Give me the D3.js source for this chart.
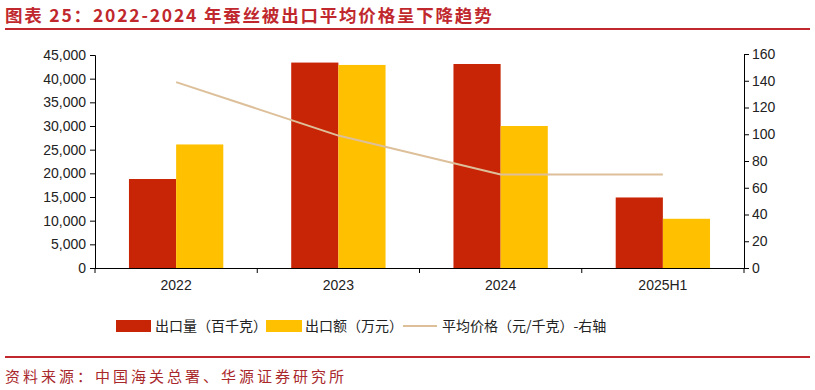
<!DOCTYPE html>
<html><head><meta charset="utf-8">
<script src="https://cdn.jsdelivr.net/npm/d3@7"></script>
<style>body{margin:0;background:#fff;}svg{display:block;}</style>
</head><body>
<svg id="c" width="815" height="390"></svg>
<script>
const categories = ["2022","2023","2024","2025H1"];
const volume = [18800, 43400, 43100, 14900];   // 出口量（百千克）
const amount = [26100, 42900, 30000, 10400];   // 出口额（万元）
const price = [139, 99, 70, 70];               // 平均价格（元/千克）
const leftTicks = [0,5000,10000,15000,20000,25000,30000,35000,40000,45000];
const rightTicks = [0,20,40,60,80,100,120,140,160];

(function(){
const svg = d3.select("#c");
const mL = 95, mR = 744, mT = 55, mB = 268;
const red = "#C82506", yellow = "#FFC000", tan = "#DDC09A", dark = "#C0282D";

// title
svg.append("text").attr("x",5).attr("y",22)
  .attr("font-family","'Noto Sans CJK SC', sans-serif").attr("font-weight","bold")
  .attr("font-size",17.5).attr("letter-spacing",1.8).attr("fill",dark)
  .text("图表 25：2022-2024 年蚕丝被出口平均价格呈下降趋势");
svg.append("line").attr("x1",5).attr("x2",810).attr("y1",29).attr("y2",29)
  .attr("stroke",dark).attr("stroke-width",2);
svg.append("line").attr("x1",5).attr("x2",810).attr("y1",357).attr("y2",357)
  .attr("stroke",dark).attr("stroke-width",2);
svg.append("text").attr("x",5).attr("y",382)
  .attr("font-family","'Noto Sans CJK SC', sans-serif")
  .attr("font-size",15).attr("letter-spacing",3).attr("fill","#A8282B")
  .text("资料来源：中国海关总署、华源证券研究所");

const x = d3.scaleBand().domain(categories).range([mL,mR]).paddingInner(0).paddingOuter(0);
const sub = d3.scaleBand().domain(["v","a"]).range([0,x.bandwidth()]).paddingInner(0).paddingOuter(0.72);
const yL = d3.scaleLinear().domain([0,45000]).range([mB,mT]);
const yR = d3.scaleLinear().domain([0,160]).range([mB,mT-1]);

const fmt = d3.format(",");
const font = "'Liberation Sans', Arial, sans-serif";

// bars
const g = svg.append("g");
categories.forEach((c,i)=>{
  g.append("rect").attr("x",x(c)+sub("v")).attr("width",sub.bandwidth())
    .attr("y",yL(volume[i])).attr("height",yL(0)-yL(volume[i])).attr("fill",red);
  g.append("rect").attr("x",x(c)+sub("a")).attr("width",sub.bandwidth())
    .attr("y",yL(amount[i])).attr("height",yL(0)-yL(amount[i])).attr("fill",yellow);
});

// line
const line = d3.line().x((d,i)=>x(categories[i])+x.bandwidth()/2).y(d=>yR(d));
svg.append("path").datum(price).attr("d",line).attr("fill","none")
  .attr("stroke",tan).attr("stroke-width",2);

// axes
const axL = d3.axisLeft(yL).tickValues(leftTicks).tickFormat(fmt).tickSize(5).tickPadding(4);
const gL = svg.append("g").attr("transform",`translate(${mL},0)`).call(axL);
const axR = d3.axisRight(yR).tickValues(rightTicks).tickSize(5).tickPadding(3);
const gR = svg.append("g").attr("transform",`translate(${mR},0)`).call(axR);
const axB = d3.axisBottom(x).tickSize(0).tickPadding(12);
const gB = svg.append("g").attr("transform",`translate(0,${mB})`).call(axB);
gB.select(".domain").attr("d",`M${mL},0.5H${mR}`);
categories.forEach((c,i)=>{ if(i>0) gB.append("line").attr("x1",x(c)).attr("x2",x(c)).attr("y1",0).attr("y2",5); });
gB.append("line").attr("x1",mL).attr("x2",mL).attr("y1",0).attr("y2",5);
gB.append("line").attr("x1",mR).attr("x2",mR).attr("y1",0).attr("y2",5);
[gL,gR,gB].forEach(a=>{
  a.selectAll("text").attr("font-family",font).attr("font-size",14).attr("fill","#222");
  a.selectAll(".domain, line").attr("stroke","#000");
});

// legend
const lg = svg.append("g").attr("font-family","'Noto Sans CJK SC', sans-serif").attr("font-size",14).attr("fill","#222");
lg.append("rect").attr("x",116).attr("y",320).attr("width",35).attr("height",12).attr("fill",red);
lg.append("text").attr("x",155).attr("y",331).text("出口量（百千克）");
lg.append("rect").attr("x",266).attr("y",320).attr("width",36).attr("height",12).attr("fill",yellow);
lg.append("text").attr("x",305).attr("y",331).text("出口额（万元）");
lg.append("line").attr("x1",403).attr("x2",437).attr("y1",326).attr("y2",326).attr("stroke",tan).attr("stroke-width",2);
lg.append("text").attr("x",442).attr("y",331).text("平均价格（元/千克）-右轴");
})();
</script>
</body></html>
